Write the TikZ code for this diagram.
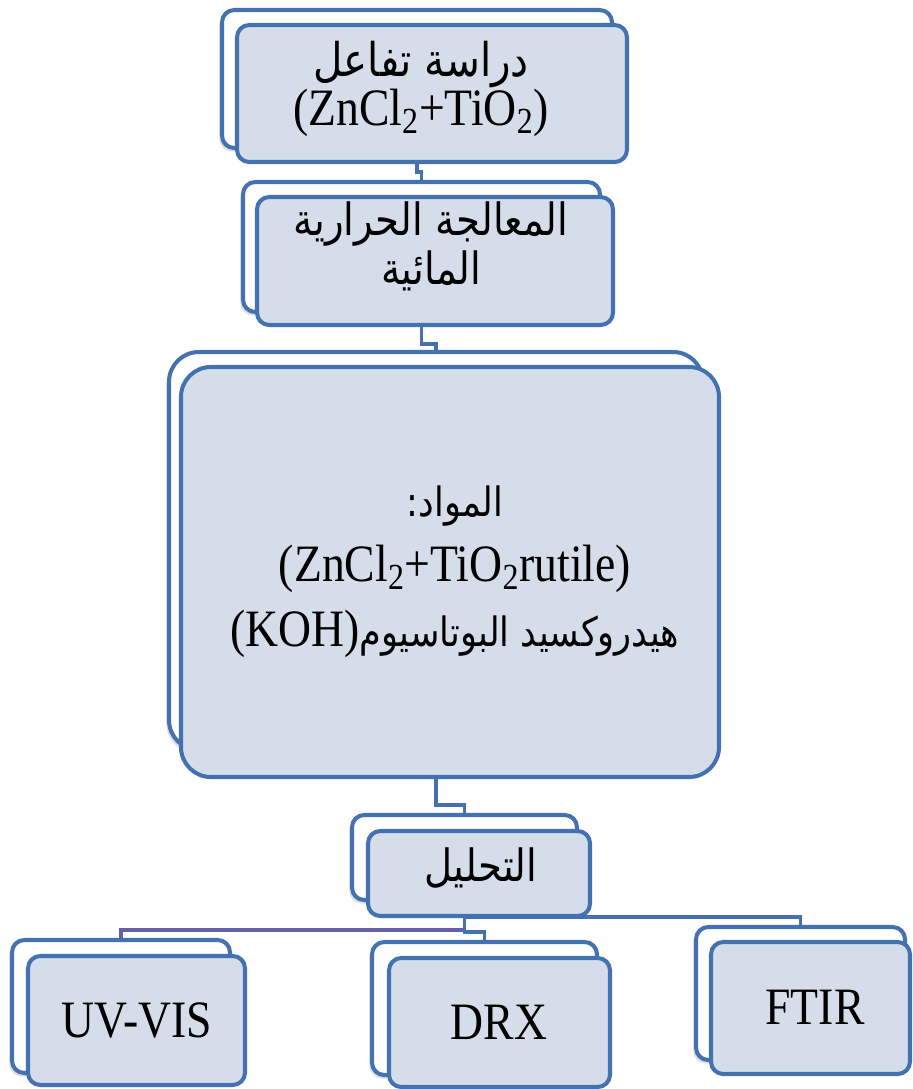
\documentclass[tikz,border=0pt]{standalone}
\usepackage{graphicx}
\usepackage{fontspec}
\setmainfont{Liberation Serif}
\newfontfamily\arabicfont[Script=Arabic]{DejaVu Sans}
\TeXXeTstate=1
\usetikzlibrary{positioning,fit,backgrounds,shadows}
\definecolor{cardblue}{RGB}{68,114,176}
\definecolor{cardfill}{RGB}{214,221,234}
\definecolor{linkpurple}{RGB}{98,96,170}
\newcommand{\artxt}[2][22]{\scalebox{1}[1.15]{\arabicfont\fontsize{#1}{#1}\selectfont\beginR #2\endR}}
\newcommand{\latxt}[1]{\scalebox{1}[1.15]{#1}}

\begin{document}
\begin{tikzpicture}[x=0.02cm, y=-0.02cm,
    backcard/.style={rectangle, rounded corners=7pt, draw=cardblue, line width=2.3pt, fill=white, inner sep=0pt,
        drop shadow={shadow xshift=-1.5pt, shadow yshift=-2pt, opacity=0.25}},
    card/.style={rectangle, rounded corners=7pt, draw=cardblue, line width=2.3pt, fill=cardfill, inner sep=0pt},
    txt/.style={align=center, inner sep=0pt, font=\fontsize{26}{30}\selectfont},
    link/.style={draw=cardblue, line width=1.8pt}
]
\useasboundingbox (0,0) rectangle (913,1089);

% Study of the reaction
\node[backcard, fit={(222,10) (612,148)}] (studyB) {};
\node[card, fit={(237,25) (627,162)}] (study) {};
\node[txt, font=\fontsize{26}{25}\selectfont] (studyT) at (421,89)
    {\artxt[23]{دراسة تفاعل}\\\latxt{(ZnCl\textsubscript{2}+TiO\textsubscript{2})}};

% Hydrothermal treatment
\node[backcard, fit={(243,182) (600,312)}] (heatB) {};
\node[card, fit={(257,197) (613,325)}] (heat) {};
\node[txt, font=\fontsize{26}{28}\selectfont] (heatT) at (431,246)
    {\artxt{المعالجة الحرارية}\\\artxt{المائية}};

% Materials
\node[backcard, rounded corners=17pt, fit={(169,352) (703,750)}] (matB) {};
\node[card, rounded corners=17pt, fit={(181,367) (719,777)}] (mat) {};
\node[txt, font=\fontsize{26}{37}\selectfont] (matT) at (455,572)
    {\artxt[20]{المواد:}\\\latxt{(ZnCl\textsubscript{2}+TiO\textsubscript{2}rutile)}\\
     \artxt[20]{هيدروكسيد البوتاسيوم\beginL{\rmfamily\fontsize{26}{26}\selectfont(KOH)}\endL}};

% Analysis
\node[backcard, fit={(352,815) (577,900)}] (anaB) {};
\node[card, fit={(368,831) (590,916)}] (ana) {};
\node[txt] (anaT) at (481,868) {\artxt{التحليل}};

% Techniques
\node[backcard, fit={(12,940) (230,1073)}] (uvB) {};
\node[card, fit={(28,956) (245,1085)}] (uv) {};
\node[txt] (uvT) at (137,1020) {\latxt{UV-VIS}};
\node[backcard, fit={(372,942) (597,1075)}] (drxB) {};
\node[card, fit={(389,958) (610,1087)}] (drx) {};
\node[txt] (drxT) at (499,1022) {\latxt{DRX}};
\node[backcard, fit={(696,927) (905,1060)}] (ftirB) {};
\node[card, fit={(711,942) (910,1074)}] (ftir) {};
\node[txt] (ftirT) at (815,1007) {\latxt{FTIR}};

% Connectors
\begin{scope}[on background layer]
\draw[link] (studyB.south) -- ++(0,22) -| (heatB.north);
\draw[link] (heatB.south) -- ++(0,30) -| (matB.north);
\draw[link] (matB.south) -- ++(0,53) -| (anaB.north);
\draw[link, draw=linkpurple] (anaB.south) -- ++(0,28) -| (uvB.north);
\draw[link] (anaB.south) -- ++(0,30) -| (drxB.north);
\draw[link] (anaB.south) -- ++(0,15) -| (ftirB.north);
\end{scope}

\end{tikzpicture}
\end{document}
